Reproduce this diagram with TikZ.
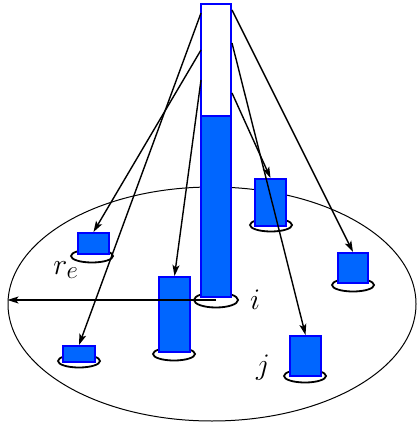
\documentclass[tikz,border=0pt]{standalone}
\usepackage{xcolor}
\usepackage{tikz}
\usetikzlibrary{
  arrows.meta,
  shapes.geometric,
  positioning
}
\definecolor{bkBlue}{HTML}{0000FF}
\definecolor{bkFill}{HTML}{0066FF}
\newcommand{\biglbl}[1]{\scalebox{1.2}{$#1$}}
\tikzset{
  bucket/.style={
    draw=bkBlue, fill=bkFill, line width=2pt, inner sep=0pt,
    minimum width=31pt
  },
  column/.style={bucket, line width=2.5pt, minimum width=30pt},
  ring/.style={
    draw, ellipse, line width=1.8pt, inner sep=0pt,
    minimum width=42pt, minimum height=13pt
  },
  disk/.style={draw, ellipse, line width=1pt, inner sep=0pt},
  jump/.style={-{Stealth[length=11pt, width=7pt, inset=2.5pt]}, line width=1.4pt},
  tag/.style={font=\Huge, inner sep=0pt}
}
\begin{document}
\begin{tikzpicture}[x=1pt, y=-1pt]
  \useasboundingbox (0,0) rectangle (418,430);
  \node[disk, minimum width=408pt, minimum height=234pt] (pool) at (212,304) {};
  % base rings
  \node[ring] (r1) at (92,256) {};
  \node[ring] (r2) at (271,225) {};
  \node[ring] (r3) at (353,285) {};
  \node[ring] (r4) at (174,354) {};
  \node[ring] (r5) at (79,361) {};
  \node[ring] (r6) at (305,376) {};
  \node[ring, minimum width=44pt, minimum height=15pt] (rc) at (216,300) {};
  % buckets
  \node[bucket, minimum height=21pt] (b1) at (93.5,243.5) {};
  \node[bucket, minimum height=47pt] (b2) at (270.5,202.5) {};
  \node[bucket, minimum height=30pt, minimum width=30pt] (b3) at (353,268) {};
  \node[bucket, minimum height=75pt] (b4) at (174.5,314.5) {};
  \node[bucket, minimum height=16pt, minimum width=32pt] (b5) at (79,354) {};
  \node[bucket, minimum height=40pt] (b6) at (305.5,356) {};
  % tall column, white top and filled bottom
  \node[column, fill=white, minimum height=293pt] (col) at (216,150.5) {};
  \node[column, minimum height=181pt] (lvl) at (216,206.5) {};
  % start points on the column sides
  \coordinate (s1) at (201,13);
  \coordinate (s2) at (201,50);
  \coordinate (s3) at (201,80);
  \coordinate (s4) at (232,10);
  \coordinate (s5) at (232,43);
  \coordinate (s6) at (232,93);
  \draw[jump] (s1) -- (b5.north);
  \draw[jump] (s2) -- (b1.north);
  \draw[jump] (s3) -- (b4.north);
  \draw[jump] (s4) -- (b3.north);
  \draw[jump] (s5) -- (b6.north);
  \draw[jump] (s6) -- (b2.north);
  \draw[jump] (rc.center) -- (rc.center -| pool.west);
  % labels
  \node[tag] (re) at (66,270) {\biglbl{r_e}};
  \node[tag] (li) at (255,300) {\biglbl{i}};
  \node[tag] (lj) at (263,368) {\biglbl{j}};
\end{tikzpicture}
\end{document}
